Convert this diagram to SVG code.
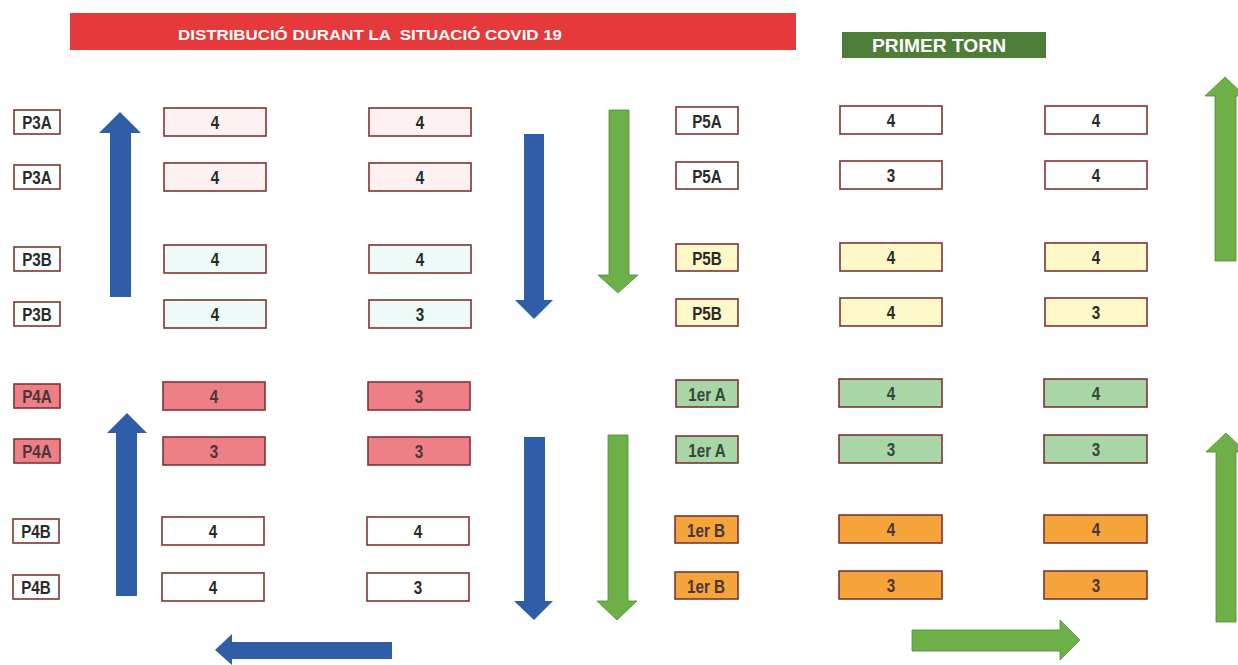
<svg xmlns="http://www.w3.org/2000/svg" width="1238" height="665" viewBox="0 0 1238 665">
<style>
.bx{stroke:#7d3434;stroke-width:1.6}
.t{font-family:"Liberation Sans",Arial,sans-serif;font-weight:bold;font-size:19px;fill:#2a2a2a;text-anchor:middle;dominant-baseline:central;transform-box:fill-box;transform-origin:center;transform:scaleX(0.8)}
.n{font-size:19px}
.dk{fill:#4a3636}
.dg{fill:#34483a}
.w{fill:#ffffff}
.pk{fill:#fdf2f1}
.cy{fill:#eefaf7}
.rd{fill:#ee7f87}
.yl{fill:#fff8c8}
.gn{fill:#a9d6a6}
.or{fill:#f5a43c}
.blue{fill:#2f5da8}
.green{fill:#6cb047;stroke:#4f8a34;stroke-width:0.8}
.title{font-family:"Liberation Sans",Arial,sans-serif;font-weight:bold;fill:#ffffff;dominant-baseline:central}
</style>
<rect width="1238" height="665" fill="#ffffff"/>

<g id="title">
<rect x="70" y="13" width="726" height="37" fill="#e5393b"/>
<text class="title" x="178" y="34" font-size="15" xml:space="preserve" textLength="384" lengthAdjust="spacingAndGlyphs">DISTRIBUCIÓ DURANT LA  SITUACIÓ COVID 19</text>
</g>
<g id="primer-torn">
<rect x="842" y="32" width="204" height="26" fill="#4d7d36"/>
<text class="title" x="872" y="46" font-size="18" fill="#eeeeee" textLength="134" lengthAdjust="spacingAndGlyphs">PRIMER TORN</text>
</g>

<!-- Left labels -->
<g id="l-p3a-1"><rect class="bx w" x="14" y="110" width="46" height="24"/><text class="t" x="37" y="122">P3A</text></g>
<g id="l-p3a-2"><rect class="bx w" x="14" y="165" width="46" height="24"/><text class="t" x="37" y="177">P3A</text></g>
<g id="l-p3b-1"><rect class="bx w" x="14" y="247" width="46" height="24"/><text class="t" x="37" y="259">P3B</text></g>
<g id="l-p3b-2"><rect class="bx w" x="14" y="302" width="46" height="24"/><text class="t" x="37" y="314">P3B</text></g>
<g id="l-p4a-1"><rect class="bx rd" x="14" y="384" width="46" height="24"/><text class="t dk" x="37" y="396">P4A</text></g>
<g id="l-p4a-2"><rect class="bx rd" x="14" y="439" width="46" height="24"/><text class="t dk" x="37" y="451">P4A</text></g>
<g id="l-p4b-1"><rect class="bx w" x="13" y="519" width="46" height="24"/><text class="t" x="36" y="531">P4B</text></g>
<g id="l-p4b-2"><rect class="bx w" x="13" y="575" width="46" height="24"/><text class="t" x="36" y="587">P4B</text></g>

<!-- Left column 1 -->
<g id="a1"><rect class="bx pk" x="164" y="108" width="102" height="28"/><text class="t n" x="215" y="122">4</text></g>
<g id="a2"><rect class="bx pk" x="164" y="163" width="102" height="28"/><text class="t n" x="215" y="177">4</text></g>
<g id="a3"><rect class="bx cy" x="164" y="245" width="102" height="28"/><text class="t n" x="215" y="259">4</text></g>
<g id="a4"><rect class="bx cy" x="164" y="300" width="102" height="28"/><text class="t n" x="215" y="314">4</text></g>
<g id="a5"><rect class="bx rd" x="163" y="382" width="102" height="28"/><text class="t n dk" x="214" y="396">4</text></g>
<g id="a6"><rect class="bx rd" x="163" y="437" width="102" height="28"/><text class="t n dk" x="214" y="451">3</text></g>
<g id="a7"><rect class="bx w" x="162" y="517" width="102" height="28"/><text class="t n" x="213" y="531">4</text></g>
<g id="a8"><rect class="bx w" x="162" y="573" width="102" height="28"/><text class="t n" x="213" y="587">4</text></g>

<!-- Left column 2 -->
<g id="b1"><rect class="bx pk" x="369" y="108" width="102" height="28"/><text class="t n" x="420" y="122">4</text></g>
<g id="b2"><rect class="bx pk" x="369" y="163" width="102" height="28"/><text class="t n" x="420" y="177">4</text></g>
<g id="b3"><rect class="bx cy" x="369" y="245" width="102" height="28"/><text class="t n" x="420" y="259">4</text></g>
<g id="b4"><rect class="bx cy" x="369" y="300" width="102" height="28"/><text class="t n" x="420" y="314">3</text></g>
<g id="b5"><rect class="bx rd" x="368" y="382" width="102" height="28"/><text class="t n dk" x="419" y="396">3</text></g>
<g id="b6"><rect class="bx rd" x="368" y="437" width="102" height="28"/><text class="t n dk" x="419" y="451">3</text></g>
<g id="b7"><rect class="bx w" x="367" y="517" width="102" height="28"/><text class="t n" x="418" y="531">4</text></g>
<g id="b8"><rect class="bx w" x="367" y="573" width="102" height="28"/><text class="t n" x="418" y="587">3</text></g>

<!-- Right labels -->
<g id="l-p5a-1"><rect class="bx w" x="676" y="107" width="62" height="27"/><text class="t" x="707" y="121">P5A</text></g>
<g id="l-p5a-2"><rect class="bx w" x="676" y="162" width="62" height="27"/><text class="t" x="707" y="176">P5A</text></g>
<g id="l-p5b-1"><rect class="bx yl" x="676" y="244" width="62" height="27"/><text class="t" x="707" y="258">P5B</text></g>
<g id="l-p5b-2"><rect class="bx yl" x="676" y="299" width="62" height="27"/><text class="t" x="707" y="313">P5B</text></g>
<g id="l-1a-1"><rect class="bx gn" x="676" y="380" width="62" height="27"/><text class="t dg" x="707" y="394">1er A</text></g>
<g id="l-1a-2"><rect class="bx gn" x="676" y="436" width="62" height="27"/><text class="t dg" x="707" y="450">1er A</text></g>
<g id="l-1b-1"><rect class="bx or" x="675" y="516" width="63" height="27"/><text class="t dk" x="706" y="530">1er B</text></g>
<g id="l-1b-2"><rect class="bx or" x="675" y="572" width="63" height="27"/><text class="t dk" x="706" y="586">1er B</text></g>

<!-- Right column 1 -->
<g id="c1"><rect class="bx w" x="840" y="106" width="102" height="28"/><text class="t n" x="891" y="120">4</text></g>
<g id="c2"><rect class="bx w" x="840" y="161" width="102" height="28"/><text class="t n" x="891" y="175">3</text></g>
<g id="c3"><rect class="bx yl" x="840" y="243" width="102" height="28"/><text class="t n" x="891" y="257">4</text></g>
<g id="c4"><rect class="bx yl" x="840" y="298" width="102" height="28"/><text class="t n" x="891" y="312">4</text></g>
<g id="c5"><rect class="bx gn" x="839" y="379" width="103" height="28"/><text class="t n dg" x="891" y="393">4</text></g>
<g id="c6"><rect class="bx gn" x="839" y="435" width="103" height="28"/><text class="t n dg" x="891" y="449">3</text></g>
<g id="c7"><rect class="bx or" x="839" y="515" width="103" height="28"/><text class="t n dk" x="891" y="529">4</text></g>
<g id="c8"><rect class="bx or" x="839" y="571" width="103" height="28"/><text class="t n dk" x="891" y="585">3</text></g>

<!-- Right column 2 -->
<g id="d1"><rect class="bx w" x="1045" y="106" width="102" height="28"/><text class="t n" x="1096" y="120">4</text></g>
<g id="d2"><rect class="bx w" x="1045" y="161" width="102" height="28"/><text class="t n" x="1096" y="175">4</text></g>
<g id="d3"><rect class="bx yl" x="1045" y="243" width="102" height="28"/><text class="t n" x="1096" y="257">4</text></g>
<g id="d4"><rect class="bx yl" x="1045" y="298" width="102" height="28"/><text class="t n" x="1096" y="312">3</text></g>
<g id="d5"><rect class="bx gn" x="1044" y="379" width="103" height="28"/><text class="t n dg" x="1096" y="393">4</text></g>
<g id="d6"><rect class="bx gn" x="1044" y="435" width="103" height="28"/><text class="t n dg" x="1096" y="449">3</text></g>
<g id="d7"><rect class="bx or" x="1044" y="515" width="103" height="28"/><text class="t n dk" x="1096" y="529">4</text></g>
<g id="d8"><rect class="bx or" x="1044" y="571" width="103" height="28"/><text class="t n dk" x="1096" y="585">3</text></g>

<g id="connectors">
<polygon class="blue" points="120,112 141,133 131,133 131,297 110,297 110,133 99,133"/>
<polygon class="blue" points="524,134 544,134 544,300 553,300 534,319 515,300 524,300"/>
<polygon class="green" points="609,110 629,110 629,275 638,275 618,293 598,275 609,275"/>
<polygon class="green" points="1225,77 1245,96 1236,96 1236,261 1215,261 1215,96 1205,96"/>
<polygon class="blue" points="127,413 147,433 137,433 137,596 116,596 116,433 107,433"/>
<polygon class="blue" points="524,437 545,437 545,601 553,601 534,620 514,601 524,601"/>
<polygon class="green" points="608,435 628,435 628,601 637,601 617,620 597,601 608,601"/>
<polygon class="green" points="1226,433 1246,452 1236,452 1236,622 1216,622 1216,452 1206,452"/>
<polygon class="blue" points="215,650 232,634 232,642 392,642 392,659 232,659 232,665"/>
<polygon class="green" points="1080,640 1060,620 1060,630 912,630 912,651 1060,651 1060,660"/>
</g>
</svg>
